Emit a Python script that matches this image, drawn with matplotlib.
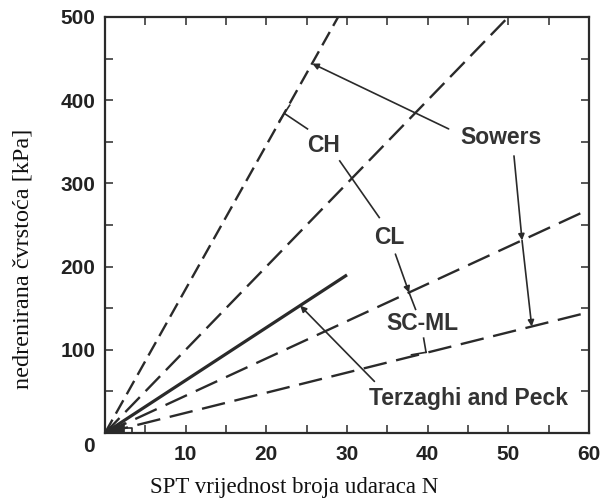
import matplotlib
matplotlib.use('Agg')
import matplotlib.pyplot as plt
import numpy as np
from matplotlib.ticker import MultipleLocator

plt.rcParams['lines.scale_dashes'] = False

# ---------------- data ----------------
x_max = 60
y_max = 500
# Sowers correlation lines (kPa per blow), steepest first
sowers_slopes = [17.3, 10.0, 4.48, 2.42]
sowers_dashes = [(11, 5), (15, 6), (17, 7), (17, 7)]
# Terzaghi and Peck line
terzaghi_n = [0, 30]
terzaghi_q = [0, 190]

xticks = [0, 10, 20, 30, 40, 50, 60]
yticks = [0, 100, 200, 300, 400, 500]

# annotation labels and positions (data coords)
labels = ["CH", "CL", "SC-ML", "Sowers", "Terzaghi and Peck"]
label_pos = [(27.1, 345), (35.2, 235), (39.3, 132), (49.1, 355), (45.1, 42)]

TXT = '#333333'
LN = '#2a2a2a'

fig = plt.figure(figsize=(6.06, 5.0), dpi=100)
ax = fig.add_axes([105/606, 1-433/500, (589-105)/606, (433-17)/500])

for s, d in zip(sowers_slopes, sowers_dashes):
    xe = min(x_max, y_max / s)
    ln, = ax.plot([0, xe], [0, s * xe], color=LN, lw=1.7, solid_capstyle='butt')
    ln.set_dashes(d)

ax.plot(terzaghi_n, terzaghi_q, color=LN, lw=2.3, solid_capstyle='butt')

# dark blob at origin where lines converge
xb = np.linspace(0, 2.4, 10)
ax.fill_between(xb, 0, sowers_slopes[2] * xb * 1.3, color=LN, lw=0)

# small bracket near origin
ax.plot([1.8, 3.3, 3.3], [6, 6, 0], color=LN, lw=1.2)

ap = dict(arrowstyle='-|>', mutation_scale=9, lw=1.2, color=LN, shrinkA=0, shrinkB=0)

def seg(p, q, lw=1.2):
    ax.plot([p[0], q[0]], [p[1], q[1]], color=LN, lw=lw)

def arrow(p, q):
    ax.annotate('', xy=q, xytext=p, arrowprops=ap)

# CH bracket
seg((22.25, 384), (25.1, 365.5))
seg((21.6, 375), (22.9, 394), lw=1.2)
# CH -> CL
seg((29.1, 327), (34.0, 259))
# CL -> SC-ML
arrow((36.0, 215), (37.7, 168.7))
seg((37.7, 168.7), (38.5, 148.6))
# SC-ML bracket to lower line
seg((39.5, 114), (39.8, 97))
seg((39.8, 97), (38.0, 94))
# Sowers upper arrow
arrow((42.6, 365.5), (25.7, 444))
# Sowers lower arrow
arrow((50.7, 333), (51.7, 231.5))
arrow((51.7, 231.5), (52.9, 128))
# Terzaghi and Peck arrow
arrow((33.4, 62), (24.2, 153))

for t, (xx, yy) in zip(labels, label_pos):
    ax.text(xx, yy, t, fontsize=16.5, fontweight='bold', color=TXT,
            family='Liberation Sans', ha='center', va='center')

ax.set_xlim(0, x_max)
ax.set_ylim(0, y_max)
ax.set_xticks(xticks)
ax.set_yticks(yticks)
ax.set_xticklabels([''] + [str(v) for v in xticks[1:]])
ax.set_yticklabels([''] + [str(v) for v in yticks[1:]])
ax.xaxis.set_minor_locator(MultipleLocator(5))
ax.yaxis.set_minor_locator(MultipleLocator(50))
ax.tick_params(which='both', direction='in', top=True, right=True,
               length=6, width=1.1, color=LN)
ax.tick_params(axis='x', pad=9)
ax.tick_params(axis='y', pad=7)
for lab in ax.get_xticklabels() + ax.get_yticklabels():
    lab.set_fontsize(15)
    lab.set_fontweight('bold')
    lab.set_family('Liberation Sans')
    lab.set_color('#222222')
for sp in ax.spines.values():
    sp.set_linewidth(1.6)
    sp.set_color(LN)

ax.annotate('0', xy=(0, 0), xycoords='axes fraction', xytext=(-16, -14),
            textcoords='offset pixels', ha='center', va='center',
            fontsize=15, fontweight='bold', family='Liberation Sans', color='#222222')

fig.text(294/606, 1-487/500, 'SPT vrijednost broja udaraca N', family='Liberation Serif',
         fontsize=16.5, ha='center', va='center', color='#111111')
fig.text(23/606, 1-259/500, 'nedrenirana čvrstoća [kPa]', family='Liberation Serif',
         fontsize=17.5, ha='center', va='center', rotation=90, color='#111111')

fig.savefig('out.png', dpi=100)
